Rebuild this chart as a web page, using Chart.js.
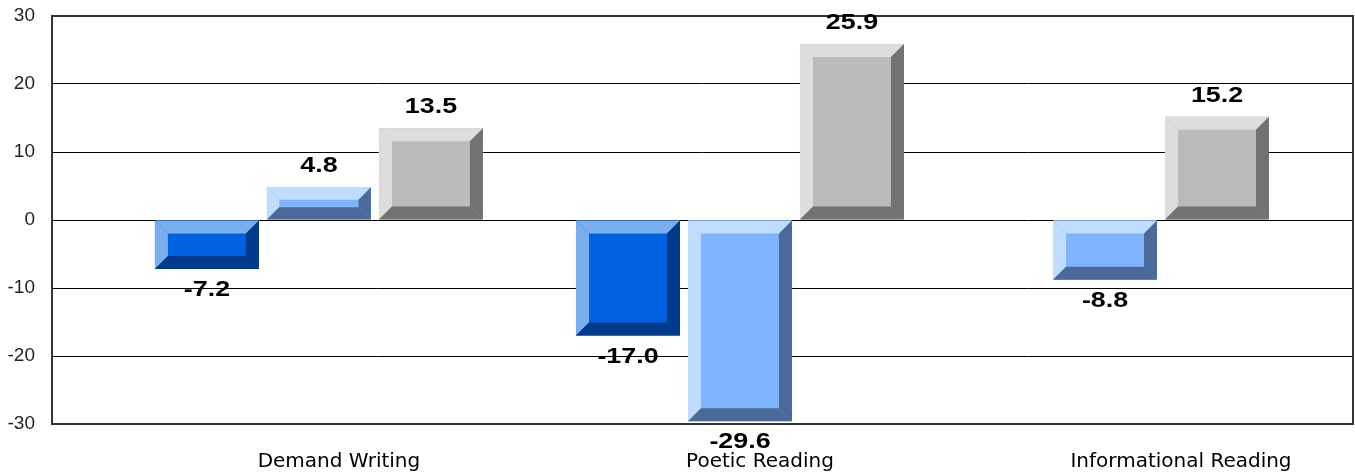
<!DOCTYPE html>
<html>
<head>
<meta charset="utf-8">
<script src="https://cdn.jsdelivr.net/npm/chart.js@4/dist/chart.umd.min.js"></script>
<style>
  html, body { margin: 0; padding: 0; background: #fff; }
  #wrap { width: 1355px; height: 475px; }
</style>
</head>
<body>
<div id="wrap"><canvas id="chart" width="1355" height="475"></canvas></div>
<script>
const categories = ["Demand Writing", "Poetic Reading", "Informational Reading"];
const seriesA = [-7.2, -17.0, null];
const seriesB = [4.8, -29.6, -8.8];
const seriesC = [13.5, 25.9, 15.2];
const yTicks = [-30, -20, -10, 0, 10, 20, 30];

// face / light bevel / dark bevel per series
const bevelColors = [
  { face: "#0062e0", light: "#7aaeee", dark: "#003a8a" },
  { face: "#80b4ff", light: "#c0dcff", dark: "#4a6a9a" },
  { face: "#bbbbbb", light: "#dddddd", dark: "#727272" }
];

const toPoints = arr => arr.map((v, i) => ({ x: i, y: v }));

// bars are drawn here: face + bevels inside each slot, then the value label
const bevelPlugin = {
  id: "bevel",
  afterDatasetsDraw(chart) {
    const ctx = chart.ctx;
    chart.data.datasets.forEach((ds, di) => {
      const meta = chart.getDatasetMeta(di);
      const c = bevelColors[di];
      meta.data.forEach((el, i) => {
        const v = ds.data[i].y;
        if (v === null) return;
        const p = el.getProps(["x", "y", "base", "width"], true);
        const L = p.x - p.width / 2 + 4, R = p.x + p.width / 2 - 4;
        const T = Math.min(p.y, p.base), B = Math.max(p.y, p.base);
        const b = Math.min(13, (B - T) / 2.6);
        const poly = (pts, col) => {
          ctx.beginPath();
          ctx.moveTo(pts[0][0], pts[0][1]);
          pts.slice(1).forEach(q => ctx.lineTo(q[0], q[1]));
          ctx.closePath();
          ctx.fillStyle = col;
          ctx.fill();
        };
        ctx.save();
        ctx.fillStyle = c.face;
        ctx.fillRect(L, T, R - L, B - T);
        poly([[L, T], [R, T], [R - b, T + b], [L + b, T + b]], c.light);
        poly([[L, T], [L + b, T + b], [L + b, B - b], [L, B]], c.light);
        poly([[R, T], [R, B], [R - b, B - b], [R - b, T + b]], c.dark);
        poly([[L, B], [R, B], [R - b, B - b], [L + b, B - b]], c.dark);
        ctx.restore();

        ctx.save();
        const ly = v >= 0 ? T - 21 : B + 21;
        ctx.translate(p.x, ly);
        ctx.scale(1.22, 1);
        ctx.font = "bold 22px 'Liberation Sans', Arial";
        ctx.fillStyle = "#000";
        ctx.textAlign = "center";
        ctx.textBaseline = "middle";
        ctx.fillText(v.toFixed(1), 0, 0);
        ctx.restore();
      });
    });
  },
  beforeDatasetsDraw(chart) {
    const a = chart.chartArea;
    const ctx = chart.ctx;
    ctx.save();
    ctx.strokeStyle = "#333";
    ctx.lineWidth = 2;
    ctx.strokeRect(a.left, a.top, a.right - a.left, a.bottom - a.top);
    ctx.restore();
  }
};

new Chart(document.getElementById("chart"), {
  type: "bar",
  data: {
    datasets: [
      { data: toPoints(seriesA), backgroundColor: "rgba(0,0,0,0)" },
      { data: toPoints(seriesB), backgroundColor: "rgba(0,0,0,0)" },
      { data: toPoints(seriesC), backgroundColor: "rgba(0,0,0,0)" }
    ]
  },
  options: {
    responsive: false,
    animation: false,
    skipNull: true,
    barThickness: 112,
    layout: { padding: { top: 16, right: 2, left: 0, bottom: 0 } },
    plugins: { legend: { display: false }, tooltip: { enabled: false } },
    scales: {
      x: {
        type: "linear",
        offset: false,
        min: -0.634,
        max: 2.456,
        grid: { display: false, drawTicks: false },
        border: { display: false },
        afterFit: s => { s.height = 51; },
        ticks: {
          stepSize: 1,
          includeBounds: false,
          autoSkip: false,
          maxRotation: 0,
          padding: 26,
          labelOffset: 20,
          color: "#000",
          font: { family: "'DejaVu Sans'", size: 20 },
          callback: v => Number.isInteger(v) ? categories[v] : ""
        }
      },
      y: {
        min: yTicks[0],
        max: yTicks[yTicks.length - 1],
        afterFit: s => { s.width = 52; s.paddingTop = 0; s.paddingBottom = 0; },
        afterBuildTicks: s => { s.ticks = yTicks.map(v => ({ value: v })); },
        grid: { color: "#000", lineWidth: 1, drawTicks: false },
        border: { display: false },
        ticks: {
          padding: 17,
          color: "#222",
          font: { family: "'Liberation Sans'", size: 19 }
        }
      }
    }
  },
  plugins: [bevelPlugin]
});
</script>
</body>
</html>
